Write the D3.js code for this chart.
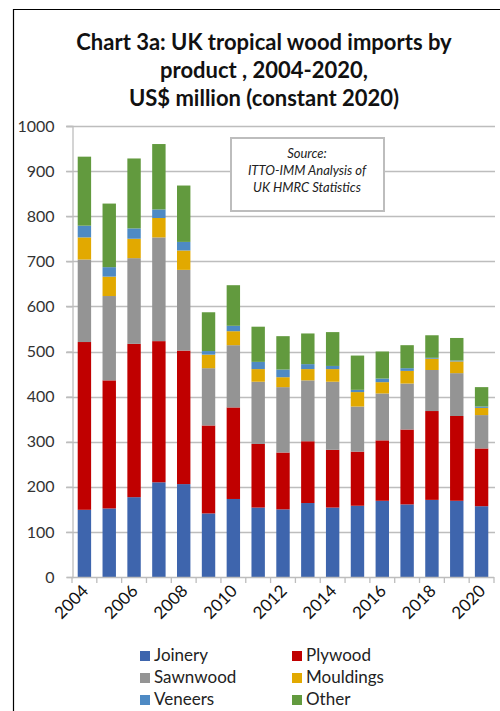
<!DOCTYPE html>
<html>
<head>
<meta charset="utf-8">
<script src="https://cdn.jsdelivr.net/npm/d3@7"></script>
<style>
  body { margin: 0; background: #fff; }
  svg { display: block; }
</style>
</head>
<body>
<div id="chart"></div>
<script>
// data (US$ million, constant 2020)
const years = ["2004","2005","2006","2007","2008","2009","2010","2011","2012",
               "2013","2014","2015","2016","2017","2018","2019","2020"];
const joinery   = [149,152,177,210,206,141,173,154,150,164,154,158,169,161,171,169,157];
const plywood   = [372,284,340,313,296,195,203,141,126,137,128,120,134,166,197,188,128];
const sawnwood  = [183,187,190,230,179,127,138,138,145,135,151,100,104,102, 91, 95, 74];
const mouldings = [ 49, 43, 43, 43, 43, 30, 31, 28, 22, 25, 28, 32, 25, 28, 25, 26, 16];
const veneers   = [ 26, 21, 23, 19, 19,  8, 12, 16, 17, 11,  7,  5,  8,  6,  2,  2,  3];
const other     = [153,141,155,145,125, 86, 90, 78, 74, 68, 75, 76, 60, 51, 50, 50, 43];
const seriesNames = ["Joinery","Plywood","Sawnwood","Mouldings","Veneers","Other"];
const yTicks = [0,100,200,300,400,500,600,700,800,900,1000];

const colors = {
  Joinery: "#3e65ad",
  Plywood: "#c00000",
  Sawnwood: "#949494",
  Mouldings: "#e2a900",
  Veneers: "#4e8ac4",
  Other: "#629a3e"
};

const rows = years.map((y, i) => ({
  year: y,
  Joinery: joinery[i], Plywood: plywood[i], Sawnwood: sawnwood[i],
  Mouldings: mouldings[i], Veneers: veneers[i], Other: other[i]
}));

const W = 500, H = 711;
const font = "Lato, 'Open Sans', sans-serif";

const svg = d3.select("#chart").append("svg")
  .attr("width", W).attr("height", H);

// outer chart frame (only left and top edges fall inside the picture)
svg.append("path")
  .attr("d", "M13.5,711 L13.5,9.5 L500,9.5")
  .attr("fill", "none").attr("stroke", "#000").attr("stroke-width", 1.2);

// title
const titleLines = ["Chart 3a: UK tropical wood imports by",
                    "product , 2004-2020,",
                    "US$ million (constant 2020)"];
svg.append("g").selectAll("text").data(titleLines).enter().append("text")
  .attr("x", 264)
  .attr("y", (d, i) => 50 + i * 28)
  .attr("text-anchor", "middle")
  .style("font-family", font)
  .style("font-size", "22px")
  .style("font-weight", 700)
  .style("fill", "#111")
  .text(d => d);

// scales
const x = d3.scaleBand().domain(years).range([72, 494])
  .paddingInner(0.46).paddingOuter(0.23);
const y = d3.scaleLinear().domain([0, 1000]).range([577, 126]);

// gridlines
svg.append("g").selectAll("line").data(yTicks.filter(d => d > 0)).enter().append("line")
  .attr("x1", 66).attr("x2", 495)
  .attr("y1", d => Math.round(y(d)) + 0.5).attr("y2", d => Math.round(y(d)) + 0.5)
  .attr("stroke", "#bdbdbd").attr("stroke-width", 1.3);

// stacked bars
const stack = d3.stack().keys(seriesNames)(rows);
svg.append("g").selectAll("g").data(stack).enter().append("g")
  .attr("fill", d => colors[d.key])
  .selectAll("rect").data(d => d).enter().append("rect")
  .attr("x", d => x(d.data.year))
  .attr("width", x.bandwidth())
  .attr("y", d => y(d[1]))
  .attr("height", d => y(d[0]) - y(d[1]));

// y axis
const yAxis = svg.append("g")
  .attr("transform", "translate(72.5,0)")
  .call(d3.axisLeft(y).tickValues(yTicks).tickSize(6).tickPadding(12).tickFormat(d3.format("d")));
yAxis.select(".domain").attr("stroke", "#bdbdbd").attr("stroke-width", 1.3);
yAxis.selectAll(".tick line").attr("stroke", "#bdbdbd").attr("stroke-width", 1.3);
yAxis.selectAll("text")
  .style("font-family", font).style("font-size", "16px").style("fill", "#333");

// x axis: ticks at category boundaries
const boundaries = years.map((d, i) => 72 + i * (422 / years.length)).concat([494]);
const xg = svg.append("g");
xg.append("line").attr("x1", 72).attr("x2", 494).attr("y1", 577.5).attr("y2", 577.5)
  .attr("stroke", "#bdbdbd").attr("stroke-width", 1.3);
xg.selectAll(".xt").data(boundaries).enter().append("line")
  .attr("class", "xt")
  .attr("x1", d => d).attr("x2", d => d)
  .attr("y1", 577).attr("y2", 583)
  .attr("stroke", "#bdbdbd").attr("stroke-width", 1.3);
xg.selectAll("text").data(years.filter((d, i) => i % 2 === 0)).enter().append("text")
  .attr("transform", d => `translate(${x(d) + x.bandwidth() / 2 + 5},${592}) rotate(-45)`)
  .attr("text-anchor", "end")
  .style("font-family", font).style("font-size", "17px").style("fill", "#111")
  .text(d => d);

// source box
const src = svg.append("g");
src.append("rect")
  .attr("x", 231).attr("y", 138).attr("width", 153).attr("height", 73)
  .attr("fill", "#fff").attr("stroke", "#bdbdbd").attr("stroke-width", 2);
src.selectAll("text").data(["Source:", "ITTO-IMM Analysis of", "UK HMRC Statistics"])
  .enter().append("text")
  .attr("x", 307).attr("y", (d, i) => 158 + i * 17)
  .attr("text-anchor", "middle")
  .style("font-family", font).style("font-size", "13px").style("font-style", "italic")
  .style("fill", "#222")
  .text(d => d);

// legend
const legend = svg.append("g");
const items = legend.selectAll("g").data(seriesNames).enter().append("g")
  .attr("transform", (d, i) => `translate(${i % 2 === 0 ? 140 : 292},${651 + Math.floor(i / 2) * 22})`);
items.append("rect").attr("width", 10).attr("height", 10).attr("fill", d => colors[d]);
items.append("text")
  .attr("x", 14).attr("y", 10)
  .style("font-family", font).style("font-size", "17px").style("fill", "#222")
  .text(d => d);
</script>
</body>
</html>
